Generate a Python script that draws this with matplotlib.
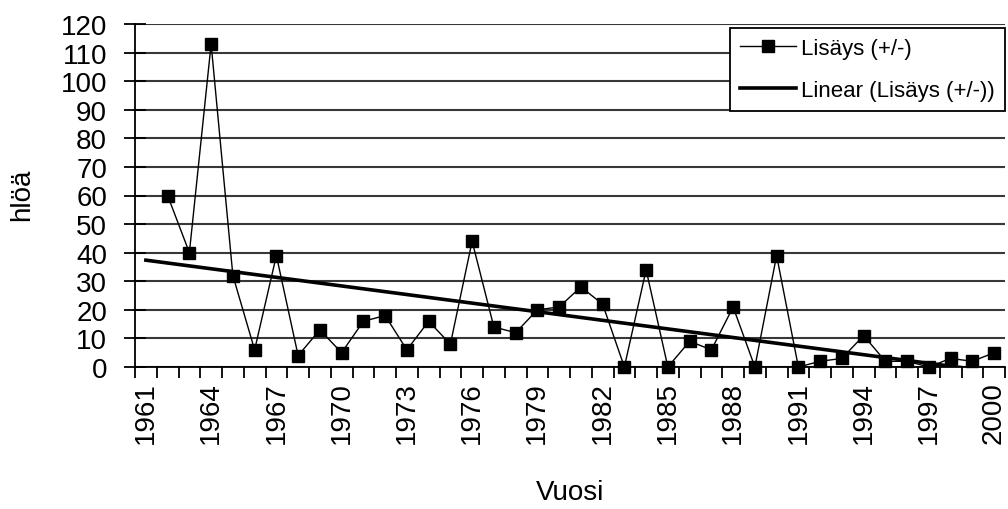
import numpy as np
import matplotlib
matplotlib.use("Agg")
import matplotlib.pyplot as plt

# Vuosittainen lisäys (1961 puuttuu)
years = list(range(1962, 2001))
lisays = [60, 40, 113, 32, 6, 39, 4, 13, 5, 16,
          18, 6, 16, 8, 44, 14, 12, 20, 21, 28,
          22, 0, 34, 0, 9, 6, 21, 0, 39, 0,
          2, 3, 11, 2, 2, 0, 3, 2, 5]
tick_years = list(range(1961, 2001, 3))
y_ticks = list(range(0, 121, 10))

plt.rcParams['font.family'] = ['Liberation Sans', 'DejaVu Sans']

fig = plt.figure(figsize=(10.08, 5.10), dpi=100)
ax = fig.add_axes([135 / 1008, 1 - 368 / 510, 870 / 1008, 343 / 510])

# trendline over the whole category axis
coef = np.polyfit(years, lisays, 1)
trend_x = np.arange(1961, 2001)
trend_y = np.polyval(coef, trend_x)

ax.plot(years, lisays, color='black', lw=1.0, marker='s', markersize=8,
        markerfacecolor='black', markeredgecolor='black', clip_on=False,
        label='Lisäys (+/-)', zorder=3)
ax.plot(trend_x, trend_y, color='black', lw=2.6, label='Linear (Lisäys (+/-))',
        zorder=2)

ax.set_xlim(1960.5, 2000.5)
ax.set_ylim(0, 120)
ax.set_yticks(y_ticks)
ax.set_xticks(np.arange(1960.5, 2001, 1), minor=False)
ax.set_xticklabels([])
ax.set_xticks(tick_years, minor=True)
ax.set_xticklabels([str(y) for y in tick_years], minor=True, rotation=90)

ax.tick_params(axis='x', which='major', direction='out', length=8, width=1.3)
ax.tick_params(axis='x', which='minor', length=0, pad=10, labelsize=20)
ax.tick_params(axis='y', direction='inout', length=16, width=1.3, pad=12,
               labelsize=20)

ax.grid(axis='y', color='#383838', lw=1.5, zorder=0)
ax.set_axisbelow(True)
for s in ['top', 'right']:
    ax.spines[s].set_visible(False)
ax.spines['left'].set_linewidth(1.3)
ax.spines['bottom'].set_linewidth(1.3)

fig.text(570 / 1008, 1 - 493 / 510, 'Vuosi', fontsize=20, ha='center', va='center')
fig.text(22 / 1008, 1 - 195 / 510, 'hlöä', fontsize=20, ha='center', va='center',
         rotation=90)

leg = ax.legend(loc='upper right', bbox_to_anchor=(1005 / 1008, 1 - 29 / 510),
                bbox_transform=fig.transFigure, borderaxespad=0, fontsize=16,
                frameon=True, fancybox=False, edgecolor='black', framealpha=1,
                handlelength=2.5, handletextpad=0.25, labelspacing=0.95,
                borderpad=0.45)
leg.get_frame().set_linewidth(1.3)

fig.savefig('out.png', dpi=100)
